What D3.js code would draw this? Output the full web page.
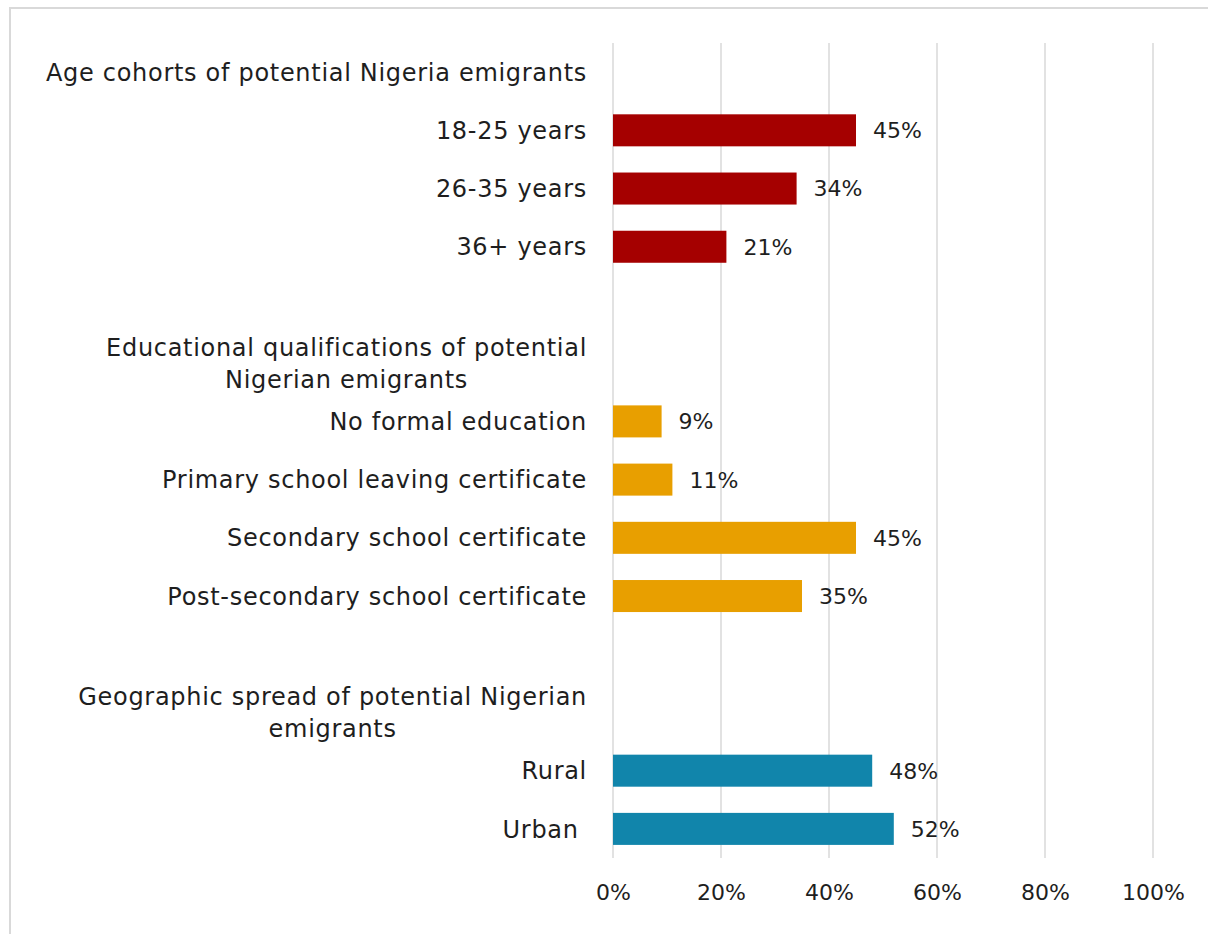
<!DOCTYPE html>
<meta charset="utf-8">
<script src="https://d3js.org/d3.v7.min.js"></script>
<title>Potential Nigerian emigrants</title>
<head>
<style>
  body { margin: 0; background: white; }
  svg text { font-family: "DejaVu Sans", sans-serif; fill: #1e1e1e; }
</style>
</head>
<div id="chart"></div>
<script>
// groups of the chart
var headers = [
  ["Age cohorts of potential Nigeria emigrants"],
  ["Educational qualifications of potential", "Nigerian emigrants"],
  ["Geographic spread of potential Nigerian", "emigrants"]
];
var ageLabels = ["18-25 years", "26-35 years", "36+ years"];
var ageValues = [45, 34, 21];
var eduLabels = ["No formal education", "Primary school leaving certificate",
                 "Secondary school certificate", "Post-secondary school certificate"];
var eduValues = [9, 11, 45, 35];
var geoLabels = ["Rural", "Urban "];
var geoValues = [48, 52];
var groupColors = ["#a50000", "#e89f00", "#1185ab"];
var tickValues = [0, 20, 40, 60, 80, 100];

var groupLabels = [ageLabels, eduLabels, geoLabels];
var groupValues = [ageValues, eduValues, geoValues];

var labelSize = "24px", numSize = "22px", spacing = "0.7px";

// one row per line of the chart: header, items, then a blank spacer
var rows = [];
groupLabels.forEach(function(labels, g) {
  rows.push({ id: "h" + g, type: "header", lines: headers[g] });
  labels.forEach(function(l, i) {
    rows.push({ id: "r" + g + "_" + i, type: "bar", label: l, value: groupValues[g][i], color: groupColors[g] });
  });
  if (g < groupLabels.length - 1) rows.push({ id: "b" + g, type: "blank" });
});

var W = 1208, H = 934;
var svg = d3.select("#chart").append("svg")
    .attr("width", W).attr("height", H);

// outer frame
svg.append("rect")
    .attr("x", 10).attr("y", 8)
    .attr("width", W + 20).attr("height", H + 20)
    .attr("fill", "none").attr("stroke", "#d9d9d9").attr("stroke-width", 2);

var x = d3.scaleLinear().domain([0, 100]).range([613, 1153]);
var y = d3.scaleBand()
    .domain(rows.map(function(d) { return d.id; }))
    .range([43, 858])
    .paddingInner(0.45)
    .paddingOuter(0.225);

// gridlines
svg.append("g").selectAll("line")
  .data(tickValues)
  .enter().append("line")
    .attr("x1", function(d) { return x(d); })
    .attr("x2", function(d) { return x(d); })
    .attr("y1", 43).attr("y2", 858)
    .attr("stroke", "#d9d9d9").attr("stroke-width", 1.5);

// x axis labels
var xAxis = svg.append("g")
    .attr("transform", "translate(0,880)")
    .call(d3.axisBottom(x).tickValues(tickValues).tickSize(0).tickPadding(0)
      .tickFormat(function(d) { return d + "%"; }));
xAxis.select(".domain").remove();
xAxis.selectAll("text")
    .style("font-size", numSize)
    .style("font-family", "\"DejaVu Sans\", sans-serif")
    .attr("fill", "#1e1e1e")
    .attr("dy", "0.9em");

var bars = rows.filter(function(d) { return d.type === "bar"; });

svg.append("g").selectAll("rect")
  .data(bars)
  .enter().append("rect")
    .attr("x", x(0))
    .attr("y", function(d) { return y(d.id); })
    .attr("width", function(d) { return x(d.value) - x(0); })
    .attr("height", y.bandwidth())
    .attr("fill", function(d) { return d.color; });

// value labels
svg.append("g").selectAll("text")
  .data(bars)
  .enter().append("text")
    .attr("x", function(d) { return x(d.value) + 17; })
    .attr("y", function(d) { return y(d.id) + y.bandwidth() / 2; })
    .attr("dy", "0.36em")
    .style("font-size", numSize)
    .text(function(d) { return d.value + "%"; });

// category labels
svg.append("g").selectAll("text")
  .data(bars)
  .enter().append("text")
    .attr("x", 587)
    .attr("y", function(d) { return y(d.id) + y.bandwidth() / 2; })
    .attr("dy", "0.36em")
    .attr("text-anchor", "end")
    .style("font-size", labelSize)
    .style("letter-spacing", spacing)
    .style("white-space", "pre")
    .text(function(d) { return d.label; });

// group headers: lines centred on each other, block right-aligned
rows.filter(function(d) { return d.type === "header"; }).forEach(function(h) {
  var cy = y(h.id) + y.bandwidth() / 2;
  var lh = 32;
  var t = svg.append("text")
      .attr("text-anchor", "middle")
      .style("font-size", labelSize)
      .style("letter-spacing", spacing);
  h.lines.forEach(function(line, i) {
    t.append("tspan")
      .attr("x", 0)
      .attr("y", cy + (i - (h.lines.length - 1) / 2) * lh)
      .attr("dy", "0.36em")
      .text(line);
  });
  var w = t.node().getBBox().width;
  t.selectAll("tspan").attr("x", 587 - w / 2);
});
</script>
